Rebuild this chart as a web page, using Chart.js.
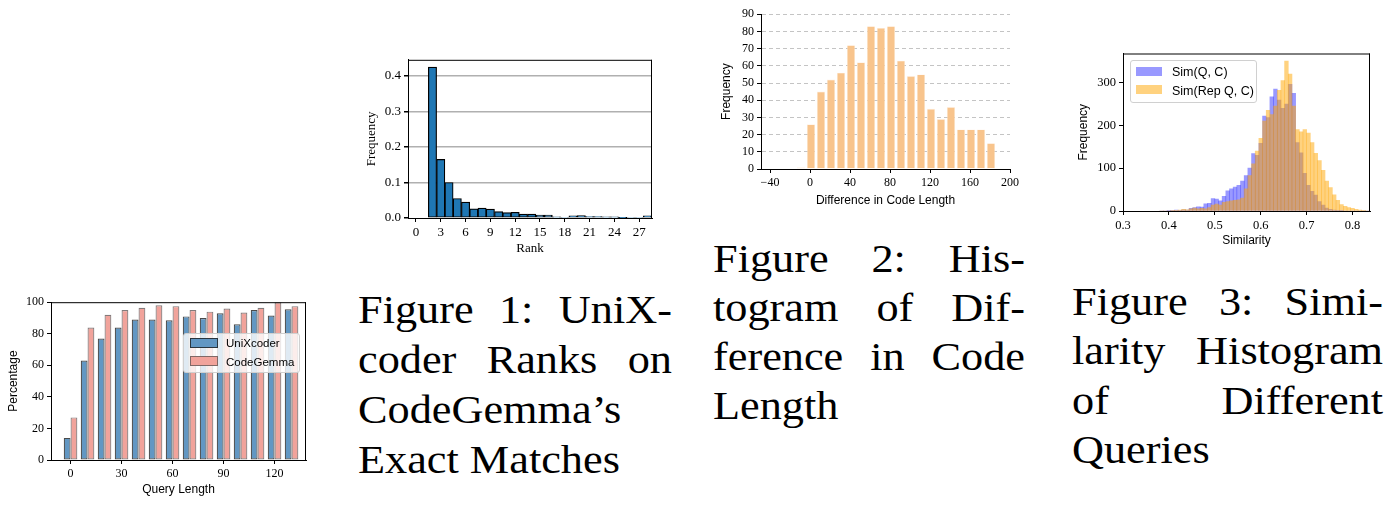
<!DOCTYPE html>
<html>
<head>
<meta charset="utf-8">
<script src="https://cdn.jsdelivr.net/npm/chart.js@4.4.1/dist/chart.umd.min.js"></script>
<style>
  html, body { margin:0; padding:0; background:#fff; }
  body { width:1385px; height:506px; position:relative; overflow:hidden; }
  canvas { position:absolute; }
  .cap { position:absolute; font-family:"Liberation Serif", serif; font-size:41px; color:#000; transform:scaleX(1.08); transform-origin:0 0; }
  .cap .j { display:flex; justify-content:space-between; }
  .legend { position:absolute; box-sizing:border-box; border:1px solid #d0d0d0; border-radius:3px; background:rgba(255,255,255,0.8); }
  .legend .sw { position:absolute; box-sizing:border-box; }
  .legend .tx { position:absolute; white-space:nowrap; font-family:"Liberation Sans", sans-serif; color:#000; transform:translateY(-50%); }
</style>
</head>
<body>
<canvas id="cQuery" width="316" height="214" style="left:0px;top:292px;width:316px;height:214px;"></canvas>
<canvas id="cRank" width="302" height="215" style="left:360px;top:49px;width:302px;height:215px;"></canvas>
<canvas id="cDiff" width="315" height="210" style="left:715px;top:4px;width:315px;height:210px;"></canvas>
<canvas id="cSim" width="308" height="215" style="left:1072px;top:43px;width:308px;height:215px;"></canvas>

<div class="cap" style="left:358px;top:284px;width:290.7px;line-height:50px;">
  <div class="j"><span>Figure</span><span>1:</span><span>UniX-</span></div>
  <div class="j"><span>coder</span><span>Ranks</span><span>on</span></div>
  <div>CodeGemma’s</div>
  <div>Exact Matches</div>
</div>
<div class="cap" style="left:713px;top:234px;width:288.9px;line-height:49px;">
  <div class="j"><span>Figure</span><span>2:</span><span>His-</span></div>
  <div class="j"><span>togram</span><span>of</span><span>Dif-</span></div>
  <div class="j"><span>ference</span><span>in</span><span>Code</span></div>
  <div>Length</div>
</div>
<div class="cap" style="left:1072px;top:277px;width:288px;line-height:49.3px;">
  <div class="j"><span>Figure</span><span>3:</span><span>Simi-</span></div>
  <div class="j"><span>larity</span><span>Histogram</span></div>
  <div class="j"><span>of</span><span>Different</span></div>
  <div>Queries</div>
</div>

<script>
// ---------------- Data ----------------
// Figure (bottom-left): Percentage vs Query Length
const queryLengthBins = [0, 10, 20, 30, 40, 50, 60, 70, 80, 90, 100, 110, 120, 130];
const unixcoderPct   = [14, 63, 77, 84, 89, 89, 88.5, 91, 90, 93, 86, 95, 91.5, 95.5];
const codegemmaPct   = [27, 84, 92, 95, 96.5, 98, 97.5, 95, 94, 96, 93.5, 96.5, 100, 97.5];
const queryLengthTicks = [0, 30, 60, 90, 120];
const percentTicks = [0, 20, 40, 60, 80, 100];

// Figure 1: UniXcoder ranks
const ranks = [2, 3, 4, 5, 6, 7, 8, 9, 10, 11, 12, 13, 14, 15, 16, 17, 18, 19, 20, 21, 22, 23, 24, 25, 26, 27, 28];
const rankFreq = [0.425, 0.165, 0.100, 0.055, 0.045, 0.026, 0.028, 0.025, 0.018, 0.015, 0.016, 0.011, 0.011, 0.008, 0.008, 0.003, 0.002, 0.006, 0.007, 0.004, 0.004, 0.003, 0.003, 0.001, 0.002, 0.002, 0.006];
const rankTicks = [0, 3, 6, 9, 12, 15, 18, 21, 24, 27];
const rankFreqTicks = [0, 0.1, 0.2, 0.3, 0.4];

// Figure 2: Difference in code length
const codeDiffBins = [-9, 1, 11, 21, 31, 41, 51, 61, 71, 81, 91, 101, 111, 121, 131, 141, 151, 161, 171, 181];
const codeDiffFreq = [1, 26, 45, 52, 56, 72, 62, 83, 82, 83, 63, 54, 55, 35, 29, 36, 23, 23, 23, 15];
const codeDiffTicks = [-40, 0, 40, 80, 120, 160, 200];
const codeDiffFreqTicks = [0, 10, 20, 30, 40, 50, 60, 70, 80, 90];

// Figure 3: Similarity histograms
const simBins = [0.384, 0.392, 0.400, 0.408, 0.416, 0.424, 0.432, 0.440, 0.448, 0.456, 0.464, 0.472, 0.480, 0.488, 0.496,
  0.504, 0.512, 0.520, 0.528, 0.536, 0.544, 0.552, 0.560, 0.568, 0.576, 0.584, 0.592, 0.600, 0.608, 0.616, 0.624, 0.632,
  0.640, 0.648, 0.656, 0.664, 0.672, 0.680, 0.688, 0.696, 0.704, 0.712, 0.720, 0.728, 0.736, 0.744, 0.752, 0.760, 0.768,
  0.776, 0.784, 0.792, 0.800, 0.808, 0.816, 0.824, 0.832];
const simQC = [0, 0, 1, 1, 2, 1, 3, 2, 6, 8, 10, 9, 17, 18, 29,
  28, 24, 34, 47, 52, 56, 60, 70, 83, 100, 134, 130, 158, 222, 218, 267, 285,
  259, 240, 250, 296, 275, 160, 136, 88, 60, 46, 37, 22, 14, 7, 4, 2, 1,
  1, 0, 0, 0, 0, 0, 0, 0];
const simRepQC = [0, 0, 0, 1, 1, 2, 4, 3, 5, 7, 5, 6, 5, 8, 14,
  16, 14, 20, 22, 24, 25, 26, 30, 52, 83, 110, 140, 170, 210, 235, 225, 245,
  282, 305, 350, 320, 245, 190, 185, 190, 182, 160, 135, 118, 95, 70, 55, 38, 25,
  15, 11, 8, 6, 4, 2, 1, 0];
const simTicks = [0.3, 0.4, 0.5, 0.6, 0.7, 0.8];
const simFreqTicks = [0, 100, 200, 300];

// ---------------- Helpers ----------------
const SERIF = '"Liberation Serif", serif';
const SANS = '"Liberation Sans", sans-serif';

const framePlugin = {
  id: 'frame',
  afterDatasetsDraw(chart, args, opts) {
    if (!opts || !opts.sides) return;
    const { ctx, chartArea: { left, right, top, bottom } } = chart;
    ctx.save();
    ctx.strokeStyle = opts.color || '#000';
    ctx.lineWidth = opts.width || 1;
    ctx.beginPath();
    if (opts.sides.includes('top')) { ctx.moveTo(left, top + 0.5); ctx.lineTo(right, top + 0.5); }
    if (opts.sides.includes('right')) { ctx.moveTo(right - 0.5, top); ctx.lineTo(right - 0.5, bottom); }
    ctx.stroke();
    ctx.restore();
  }
};
Chart.register(framePlugin);

const setTicks = (vals) => (scale) => { scale.ticks = vals.map(v => ({ value: v })); };
const pts = (xs, ys) => xs.map((x, i) => ({ x: x, y: ys[i] }));

function axis(o) {
  return {
    type: 'linear',
    offset: false,
    min: o.min, max: o.max,
    afterBuildTicks: setTicks(o.ticks),
    afterFit: (s) => { if (o.width !== undefined) s.width = o.width; if (o.height !== undefined) s.height = o.height; },
    grid: Object.assign({ offset: false, drawOnChartArea: false, tickLength: 4, tickColor: '#000', color: '#000', lineWidth: 1 }, o.grid || {}),
    border: Object.assign({ display: true, color: '#000', width: 1 }, o.border || {}),
    ticks: { autoSkip: false, maxRotation: 0, minRotation: 0, color: '#000', padding: o.tickPad || 3,
             font: { family: o.tickFamily || SERIF, size: o.tickSize || 12 }, callback: o.fmt || ((v) => String(v)) },
    title: { display: true, text: o.title, color: '#000', font: { family: o.titleFamily || SANS, size: o.titleSize || 12 },
             padding: o.titlePad || { top: 4, bottom: 4 } }
  };
}

const baseOpts = (pad) => ({
  responsive: false, animation: false, devicePixelRatio: 1,
  layout: { padding: pad },
  events: [],
  plugins: { legend: { display: false }, tooltip: { enabled: false } }
});

function htmlLegend(chart, box, rows) {
  const el = document.createElement('div');
  el.className = 'legend';
  el.style.left = box.left + 'px'; el.style.top = box.top + 'px';
  el.style.width = box.width + 'px'; el.style.height = box.height + 'px';
  chart.data.datasets.forEach((ds, i) => {
    const r = rows[i];
    const sw = document.createElement('div');
    sw.className = 'sw';
    sw.style.left = r.swX + 'px'; sw.style.top = r.swY + 'px';
    sw.style.width = r.swW + 'px'; sw.style.height = r.swH + 'px';
    sw.style.background = ds.backgroundColor;
    if (r.edge) sw.style.border = '1px solid ' + r.edge;
    el.appendChild(sw);
    const tx = document.createElement('div');
    tx.className = 'tx';
    tx.style.left = r.txX + 'px'; tx.style.top = r.txY + 'px';
    tx.style.fontSize = r.size + 'px';
    tx.textContent = ds.label;
    el.appendChild(tx);
  });
  document.body.appendChild(el);
}

// ---------------- Chart: Query length ----------------
const optsQ = baseOpts({ top: 10, right: 10, left: 0, bottom: 0 });
optsQ.plugins.frame = { sides: ['top', 'right'], color: '#000', width: 1 };
optsQ.scales = {
  x: axis({ min: -11.5, max: 138.5, ticks: queryLengthTicks, height: 46, title: 'Query Length', titlePad: { top: 0, bottom: 8.8 } }),
  y: axis({ min: 0, max: 100, ticks: percentTicks, width: 51, title: 'Percentage', titlePad: { top: 6, bottom: 0 } })
};
const chartQ = new Chart(document.getElementById('cQuery'), {
  type: 'bar',
  data: { datasets: [
    { label: 'UniXcoder', data: pts(queryLengthBins, unixcoderPct), backgroundColor: '#6297c3', borderColor: 'rgba(30,30,30,0.8)', borderWidth: 1.2, borderSkipped: false, categoryPercentage: 0.8, barPercentage: 1 },
    { label: 'CodeGemma', data: pts(queryLengthBins, codegemmaPct), backgroundColor: '#f1a39b', borderColor: 'rgba(100,90,90,0.8)', borderWidth: 1.2, borderSkipped: false, categoryPercentage: 0.8, barPercentage: 1 }
  ] },
  options: optsQ
});
htmlLegend(chartQ, { left: 183, top: 333, width: 117, height: 40 }, [
  { swX: 6, swY: 4, swW: 28, swH: 10, edge: 'rgba(30,30,30,0.8)', txX: 42, txY: 9, size: 11.5 },
  { swX: 6, swY: 22, swW: 28, swH: 10, edge: 'rgba(100,90,90,0.8)', txX: 42, txY: 27.5, size: 11.5 }
]);

// ---------------- Chart: Rank ----------------
const optsR = baseOpts({ top: 10, right: 10, left: 0, bottom: 0 });
optsR.plugins.frame = { sides: ['top', 'right'], color: '#000', width: 1 };
optsR.scales = {
  x: axis({ min: -0.96, max: 28.55, ticks: rankTicks, height: 46, title: 'Rank', titleFamily: SERIF, titleSize: 13, tickSize: 13,
            titlePad: { top: 0, bottom: 7.2 } }),
  y: axis({ min: 0, max: 0.4455, ticks: rankFreqTicks, width: 48, title: 'Frequency', titleFamily: SERIF, titleSize: 13, tickSize: 13,
            titlePad: { top: 3.9, bottom: 0 }, fmt: (v) => v.toFixed(1),
            grid: { drawOnChartArea: true, lineWidth: 1.5, color: (c) => (c.tick && c.tick.value === 0 ? 'rgba(0,0,0,0)' : '#b0b0b0'), tickColor: '#000' } })
};
new Chart(document.getElementById('cRank'), {
  type: 'bar',
  data: { datasets: [
    { label: 'Rank', data: pts(ranks, rankFreq), backgroundColor: '#1f77b4', borderColor: '#000', borderWidth: 1.2, borderSkipped: false, categoryPercentage: 1, barPercentage: 1 }
  ] },
  options: optsR
});

// ---------------- Chart: Difference in code length ----------------
const optsD = baseOpts({ top: 10, right: 20, left: 0, bottom: 0 });
optsD.scales = {
  x: axis({ min: -49, max: 200, ticks: codeDiffTicks, height: 45, title: 'Difference in Code Length', titlePad: { top: 0, bottom: 6.1 },
            fmt: (v) => (v < 0 ? '\u2212' + String(-v) : String(v)) }),
  y: axis({ min: 0, max: 90, ticks: codeDiffFreqTicks, width: 46, title: 'Frequency', titlePad: { top: 4.5, bottom: 0 },
            grid: { drawOnChartArea: true, lineWidth: 1, color: (c) => (c.tick && c.tick.value === 0 ? 'rgba(0,0,0,0)' : '#c4c4c4'), tickColor: '#000' },
            border: { dash: [4, 3] } })
};
new Chart(document.getElementById('cDiff'), {
  type: 'bar',
  data: { datasets: [
    { label: 'Difference in Code Length', data: pts(codeDiffBins, codeDiffFreq), backgroundColor: '#f8c48c', borderColor: 'rgba(255,240,225,0.9)', borderWidth: 0.6, borderSkipped: false, categoryPercentage: 1, barPercentage: 0.82 }
  ] },
  options: optsD
});

// ---------------- Chart: Similarity ----------------
const optsS = baseOpts({ top: 10, right: 10, left: 0, bottom: 0 });
optsS.plugins.frame = { sides: ['top', 'right'], color: '#000', width: 1 };
optsS.scales = {
  x: axis({ min: 0.3, max: 0.838, ticks: simTicks, height: 47, title: 'Similarity', titlePad: { top: 0, bottom: 10 }, tickSize: 12.5,
            fmt: (v) => v.toFixed(1) }),
  y: axis({ min: 0, max: 368, ticks: simFreqTicks, width: 51, title: 'Frequency', titlePad: { top: 4, bottom: 0 }, tickSize: 12.5 })
};
const chartS = new Chart(document.getElementById('cSim'), {
  type: 'bar',
  data: { datasets: [
    { label: 'Sim(Q, C)', data: pts(simBins, simQC), backgroundColor: 'rgba(0,0,255,0.4)', borderWidth: 0, grouped: false, order: 1, categoryPercentage: 1, barPercentage: 1 },
    { label: 'Sim(Rep Q, C)', data: pts(simBins, simRepQC), backgroundColor: 'rgba(255,165,0,0.5)', borderWidth: 0, grouped: false, order: 0, categoryPercentage: 1, barPercentage: 1 }
  ] },
  options: optsS
});
htmlLegend(chartS, { left: 1130, top: 60, width: 127, height: 43 }, [
  { swX: 5, swY: 6, swW: 26, swH: 9, txX: 41, txY: 10.5, size: 12.5 },
  { swX: 5, swY: 24, swW: 26, swH: 9, txX: 41, txY: 29.5, size: 12.5 }
]);
</script>
</body>
</html>
